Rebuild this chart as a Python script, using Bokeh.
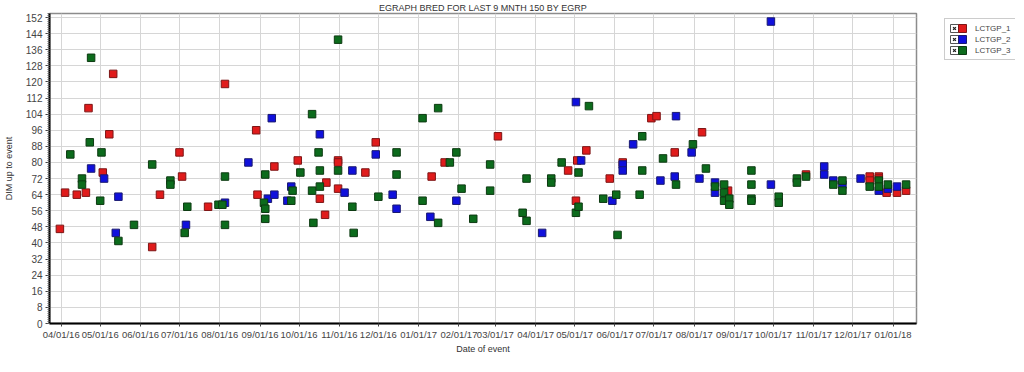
import datetime as dt
import pandas as pd
from bokeh.plotting import figure
from bokeh.layouts import row
from bokeh.models import (Range1d, SingleIntervalTicker, MonthsTicker,
                          DatetimeTickFormatter, Legend, LegendItem, ColumnDataSource)
from bokeh.embed import file_html
from bokeh.resources import INLINE

TITLE = "EGRAPH BRED FOR LAST 9 MNTH 150 BY EGRP"
X_LABEL = "Date of event"
Y_LABEL = "DIM up to event"
SERIES_NAMES = ["LCTGP_1", "LCTGP_2", "LCTGP_3"]
X_START = "2016-03-23"
X_END = "2018-01-19"
Y_MAX = 154

lct1_dates = ["2016-03-31", "2016-04-04", "2016-04-13", "2016-04-20", "2016-04-22", "2016-05-03",
              "2016-05-08", "2016-05-11", "2016-06-10", "2016-06-16", "2016-07-01", "2016-07-03",
              "2016-07-23", "2016-08-05", "2016-08-29", "2016-08-30", "2016-09-12", "2016-09-30",
              "2016-10-17", "2016-10-21", "2016-10-22", "2016-10-31", "2016-10-31", "2016-10-31",
              "2016-11-21", "2016-11-29", "2017-01-11", "2017-01-21", "2017-03-03", "2017-04-26",
              "2017-05-02", "2017-05-03", "2017-05-10", "2017-05-28", "2017-06-07", "2017-06-29",
              "2017-07-03", "2017-07-17", "2017-08-07", "2017-08-27", "2017-10-26", "2017-12-14",
              "2017-12-14", "2017-12-21", "2017-12-21", "2017-12-27", "2018-01-04", "2018-01-11"]
lct1_dim = [47, 65, 64, 65, 107, 75,
            94, 124, 38, 64, 85, 73,
            58, 119, 96, 64, 78, 81,
            62, 54, 70, 81, 80, 67,
            75, 90, 73, 80, 93, 76,
            61, 81, 86, 72, 80, 102,
            103, 85, 95, 66, 74, 73,
            71, 73, 72, 65, 65, 66]

lct2_dates = ["2016-04-24", "2016-05-04", "2016-05-13", "2016-05-15", "2016-07-06", "2016-08-05",
              "2016-08-23", "2016-09-07", "2016-09-10", "2016-09-12", "2016-09-22", "2016-09-25",
              "2016-10-17", "2016-11-05", "2016-11-11", "2016-11-29", "2016-12-12", "2016-12-15",
              "2017-01-10", "2017-01-30", "2017-04-06", "2017-05-02", "2017-05-06", "2017-05-30",
              "2017-06-07", "2017-06-07", "2017-06-15", "2017-07-06", "2017-07-17", "2017-07-18",
              "2017-07-30", "2017-08-05", "2017-08-17", "2017-08-17", "2017-09-29", "2017-09-29",
              "2017-11-09", "2017-11-09", "2017-11-16", "2017-11-23", "2017-12-07", "2017-12-21",
              "2017-12-28", "2018-01-04"]
lct2_dim = [77, 72, 45, 63, 49, 60,
            80, 62, 102, 64, 61, 68,
            94, 65, 76, 84, 64, 57,
            53, 61, 45, 110, 81, 61,
            79, 76, 89, 71, 73, 103,
            85, 72, 70, 65, 150, 69,
            78, 74, 71, 69, 72, 66,
            67, 68]

lct3_dates = ["2016-04-08", "2016-04-17", "2016-04-17", "2016-04-23", "2016-04-24", "2016-05-01",
              "2016-05-02", "2016-05-15", "2016-05-27", "2016-06-10", "2016-06-24", "2016-06-24",
              "2016-07-05", "2016-07-07", "2016-07-31", "2016-08-03", "2016-08-05", "2016-08-05",
              "2016-09-04", "2016-09-05", "2016-09-05", "2016-09-05", "2016-09-25", "2016-09-26",
              "2016-10-02", "2016-10-11", "2016-10-11", "2016-10-12", "2016-10-16", "2016-10-17",
              "2016-10-17", "2016-10-31", "2016-10-31", "2016-11-11", "2016-11-12", "2016-12-01",
              "2016-12-15", "2016-12-15", "2017-01-04", "2017-01-04", "2017-01-16", "2017-01-16",
              "2017-01-25", "2017-01-30", "2017-02-03", "2017-02-12", "2017-02-25", "2017-02-25",
              "2017-03-22", "2017-03-25", "2017-03-25", "2017-04-13", "2017-04-13", "2017-04-21",
              "2017-05-02", "2017-05-04", "2017-05-04", "2017-05-12", "2017-05-23", "2017-06-02",
              "2017-06-03", "2017-06-20", "2017-06-22", "2017-06-22", "2017-07-08", "2017-07-18",
              "2017-07-31", "2017-08-10", "2017-08-17", "2017-08-24", "2017-08-24", "2017-08-24",
              "2017-08-28", "2017-08-28", "2017-09-14", "2017-09-14", "2017-09-14", "2017-09-14",
              "2017-10-05", "2017-10-05", "2017-10-19", "2017-10-19", "2017-10-26", "2017-11-16",
              "2017-11-23", "2017-11-23", "2017-12-14", "2017-12-21", "2017-12-21", "2017-12-28",
              "2018-01-11"]
lct3_dim = [84, 72, 69, 90, 132, 61,
            85, 41, 49, 79, 71, 69,
            45, 58, 59, 59, 73, 49,
            60, 74, 57, 52, 61, 66,
            75, 104, 66, 50, 85, 76,
            68, 76, 141, 58, 45, 63,
            85, 74, 102, 61, 107, 50,
            80, 85, 67, 52, 79, 66,
            55, 72, 51, 72, 70, 80,
            55, 58, 75, 108, 62, 64,
            44, 64, 93, 76, 82, 69,
            89, 77, 68, 69, 65, 61,
            62, 59, 76, 69, 62, 61,
            63, 60, 72, 70, 73, 69,
            71, 66, 68, 71, 68, 69,
            69]

FILLS = ["#e01b1b", "#1010dc", "#0c6b1c"]
EDGES = ["#7d1616", "#1a1a70", "#0d3a12"]

FONT = "Liberation Sans"
H = 356

p = figure(width=932, height=H, x_axis_type="datetime",
           output_backend="svg", toolbar_location=None,
           x_range=Range1d(dt.datetime.fromisoformat(X_START), dt.datetime.fromisoformat(X_END)),
           y_range=Range1d(0, Y_MAX),
           min_border_left=49, min_border_right=16, min_border_top=0, min_border_bottom=0)

p.title.text = TITLE
p.title.text_font = FONT
p.title.text_font_size = "9px"
p.title.text_font_style = "normal"
p.title.text_color = "#333333"
p.title.align = "center"
p.title.standoff = 1

p.background_fill_color = "white"
p.border_fill_color = "white"
p.outline_line_color = "#8c8c8c"
p.outline_line_width = 1.5

# axes
p.xaxis.ticker = MonthsTicker(months=list(range(1, 13)))
fmt = "%m/%d/%y"
p.xaxis.formatter = DatetimeTickFormatter(
    milliseconds=fmt, seconds=fmt, minsec=fmt, minutes=fmt, hourmin=fmt, hours=fmt,
    days=fmt, months=fmt, years=fmt)
p.yaxis.ticker = SingleIntervalTicker(interval=8, num_minor_ticks=8)

for ax in (p.xaxis, p.yaxis):
    ax.axis_line_color = "black"
    ax.axis_line_width = 2
    ax.major_tick_line_color = "#444444"
    ax.minor_tick_line_color = "#666666"
    ax.major_tick_in = 0
    ax.minor_tick_in = 0
    ax.major_label_text_font = FONT
    ax.major_label_text_color = "#444444"
    ax.axis_label_text_font = FONT
    ax.axis_label_text_font_style = "normal"
    ax.axis_label_text_color = "#333333"
    ax.axis_label_text_font_size = "9px"

p.xaxis.major_tick_out = 3
p.xaxis.minor_tick_out = 0
p.xaxis.major_label_standoff = 2
p.xaxis.major_label_text_font_size = "9.5px"
p.xaxis.axis_label = X_LABEL
p.xaxis.axis_label_standoff = 1

p.yaxis.major_tick_out = 4
p.yaxis.minor_tick_out = 2
p.yaxis.major_label_standoff = 3
p.yaxis.major_label_text_font_size = "10px"
p.yaxis.axis_label = Y_LABEL
p.yaxis.axis_label_standoff = 9

p.xgrid.grid_line_color = "#d6d6d6"
p.ygrid.grid_line_color = "#d6d6d6"
p.xgrid.grid_line_width = 1
p.ygrid.grid_line_width = 1

all_dates = [lct1_dates, lct2_dates, lct3_dates]
all_dims = [lct1_dim, lct2_dim, lct3_dim]

# side figure that only holds the legend box
lf = figure(width=83, height=H, output_backend="svg", toolbar_location=None,
            x_axis_type=None, y_axis_type=None, x_range=Range1d(0, 1), y_range=Range1d(0, 1),
            min_border=0, min_border_left=0, min_border_right=0,
            min_border_top=0, min_border_bottom=0)
lf.outline_line_color = None
lf.background_fill_color = "white"
lf.border_fill_color = "white"
for g in list(lf.xgrid) + list(lf.ygrid):
    g.visible = False

nan = float("nan")
name_items = []
swatch_items = []
for name, dates, dims, fc, lc in zip(SERIES_NAMES, all_dates, all_dims, FILLS, EDGES):
    src = ColumnDataSource(dict(x=pd.to_datetime(dates), y=dims))
    p.scatter("x", "y", source=src, marker="square", size=7.5,
              fill_color=fc, line_color=lc, line_width=1)
    # colour swatch: an area glyph with no visible data
    sw = lf.quad(left=[nan], right=[nan], top=[nan], bottom=[nan],
                 fill_color=fc, line_color=lc, line_width=1)
    swatch_items.append(LegendItem(label=" ", renderers=[sw]))
    # ticked checkbox
    cb = lf.quad(left=[nan], right=[nan], top=[nan], bottom=[nan],
                 fill_color="white", line_color="#555555", line_width=1)
    tick = lf.scatter(x=[nan], y=[nan], marker="x", line_color="#222222", line_width=1.3)
    name_items.append(LegendItem(label=name, renderers=[cb, tick]))

ROW_KW = dict(padding=4, spacing=1, glyph_width=10, glyph_height=10, label_height=10,
              label_text_font=FONT, label_text_font_size="8px", label_text_color="#444444")
LEG_Y = 263

# bordered box: checkbox + series name
box_legend = Legend(items=name_items, location=(12, LEG_Y), margin=0, label_standoff=16,
                    border_line_color="#9a9a9a", border_line_width=1,
                    background_fill_color="white", **ROW_KW)
lf.add_layout(box_legend, "center")

# colour swatches laid over the gap between checkbox and name
swatch_legend = Legend(items=swatch_items, location=(25, LEG_Y + 5), margin=0, label_standoff=0,
                       border_line_color=None, background_fill_alpha=0, **ROW_KW)
lf.add_layout(swatch_legend, "center")

layout = row(p, lf)
open("out.html", "w").write(file_html(layout, INLINE))
